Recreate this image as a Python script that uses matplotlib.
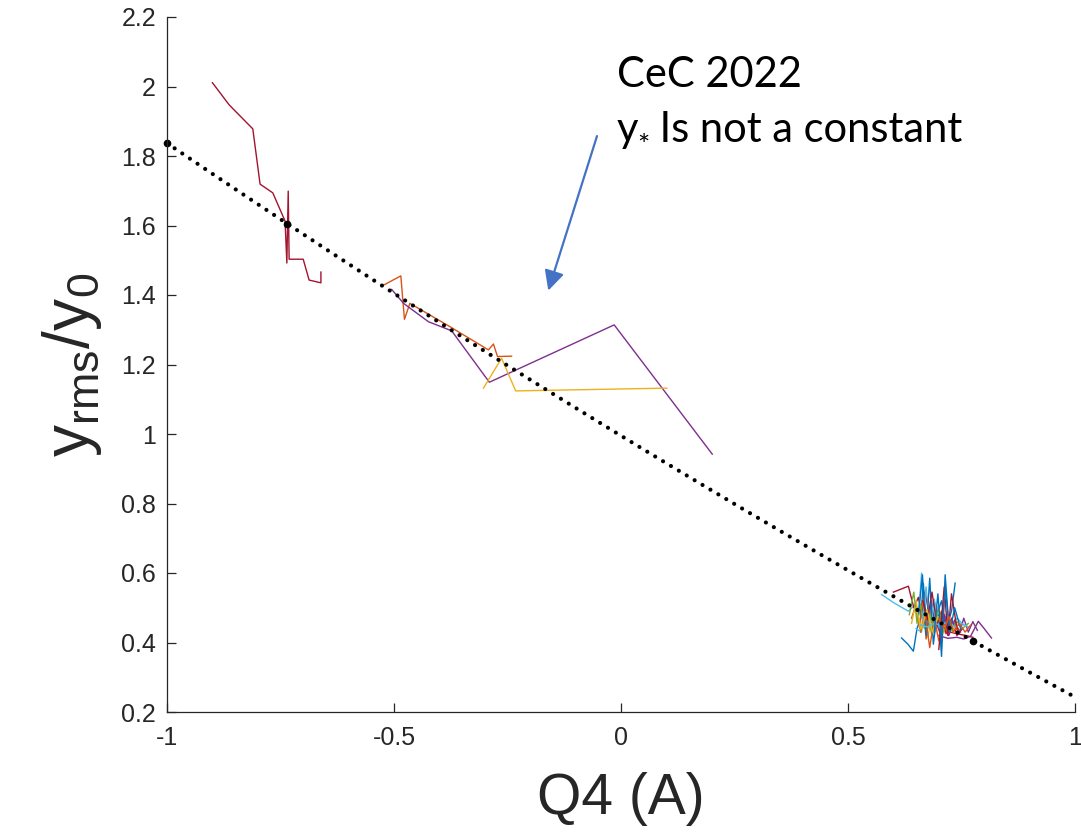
import numpy as np
import matplotlib
matplotlib.use("Agg")
import matplotlib.pyplot as plt
from matplotlib.transforms import offset_copy

# MATLAB default line colours
C_BLUE = '#0072BD'
C_ORANGE = '#D95319'
C_YELLOW = '#EDB120'
C_PURPLE = '#7E2F8E'
C_GREEN = '#77AC30'
C_LBLUE = '#4DBEEE'
C_RED = '#A2142F'

# scans far from the fit line
red_x = [-0.900, -0.863, -0.811, -0.795, -0.767, -0.740, -0.736, -0.733, -0.731, -0.700, -0.687, -0.661, -0.661]
red_y = [2.011, 1.947, 1.878, 1.719, 1.694, 1.613, 1.492, 1.699, 1.503, 1.503, 1.443, 1.435, 1.466]

orange_x = [-0.525, -0.485, -0.477, -0.465, -0.377, -0.292, -0.281, -0.272, -0.241]
orange_y = [1.427, 1.455, 1.330, 1.376, 1.309, 1.242, 1.259, 1.223, 1.224]

purple_x = [-0.505, -0.479, -0.424, -0.373, -0.290, -0.015, 0.201]
purple_y = [1.416, 1.376, 1.323, 1.297, 1.149, 1.314, 0.942]

yellow_x = [-0.303, -0.263, -0.232, 0.101]
yellow_y = [1.132, 1.218, 1.124, 1.132]

# the tangle of scans near Q4 = 0.7
cluster = [
    (C_LBLUE, [0.574, 0.600, 0.633, 0.645, 0.655, 0.662, 0.668, 0.680, 0.695, 0.710],
              [0.538, 0.515, 0.490, 0.505, 0.470, 0.600, 0.455, 0.480, 0.445, 0.470]),
    (C_BLUE, [0.618, 0.632, 0.644, 0.652, 0.660, 0.666, 0.674, 0.684, 0.692, 0.700, 0.706, 0.714, 0.722],
             [0.413, 0.395, 0.375, 0.440, 0.470, 0.570, 0.430, 0.520, 0.440, 0.480, 0.360, 0.595, 0.450]),
    (C_RED, [0.600, 0.633, 0.645, 0.655, 0.662, 0.670, 0.680, 0.690, 0.700, 0.712, 0.725, 0.740, 0.760, 0.775],
            [0.545, 0.562, 0.500, 0.530, 0.480, 0.545, 0.470, 0.520, 0.440, 0.480, 0.430, 0.425, 0.420, 0.415]),
    (C_ORANGE, [0.640, 0.650, 0.658, 0.665, 0.672, 0.680, 0.688, 0.695, 0.703, 0.712, 0.722, 0.735, 0.748],
               [0.470, 0.510, 0.440, 0.525, 0.410, 0.490, 0.450, 0.505, 0.420, 0.470, 0.440, 0.455, 0.430]),
    (C_YELLOW, [0.640, 0.650, 0.660, 0.668, 0.676, 0.684, 0.692, 0.700, 0.710, 0.720, 0.732],
               [0.455, 0.520, 0.430, 0.490, 0.415, 0.475, 0.430, 0.465, 0.425, 0.450, 0.430]),
    (C_GREEN, [0.635, 0.645, 0.652, 0.660, 0.668, 0.676, 0.684, 0.694, 0.704, 0.716],
              [0.480, 0.545, 0.455, 0.510, 0.440, 0.480, 0.425, 0.470, 0.435, 0.455]),
    (C_PURPLE, [0.700, 0.720, 0.740, 0.755, 0.770, 0.787, 0.800, 0.816],
               [0.420, 0.412, 0.415, 0.410, 0.418, 0.461, 0.440, 0.413]),
    (C_LBLUE, [0.650, 0.662, 0.672, 0.680, 0.690, 0.700, 0.712, 0.725, 0.740, 0.755],
              [0.440, 0.430, 0.560, 0.455, 0.525, 0.440, 0.475, 0.445, 0.470, 0.450]),
    (C_BLUE, [0.655, 0.664, 0.672, 0.680, 0.688, 0.696, 0.706, 0.716, 0.728, 0.736],
             [0.480, 0.595, 0.420, 0.585, 0.395, 0.480, 0.520, 0.440, 0.490, 0.571]),
    (C_RED, [0.665, 0.675, 0.685, 0.696, 0.706, 0.716, 0.728, 0.740, 0.752],
            [0.520, 0.465, 0.545, 0.450, 0.490, 0.425, 0.470, 0.420, 0.440]),
    (C_PURPLE, [0.690, 0.702, 0.712, 0.722, 0.735, 0.745, 0.755, 0.765, 0.775, 0.785],
               [0.470, 0.430, 0.480, 0.420, 0.465, 0.425, 0.470, 0.430, 0.460, 0.435]),
    (C_ORANGE, [0.660, 0.670, 0.680, 0.690, 0.700, 0.710, 0.720, 0.730, 0.742],
               [0.430, 0.480, 0.385, 0.470, 0.405, 0.455, 0.425, 0.450, 0.435]),
    (C_GREEN, [0.680, 0.690, 0.700, 0.710, 0.720, 0.730, 0.740, 0.752, 0.765],
              [0.480, 0.440, 0.500, 0.430, 0.470, 0.435, 0.460, 0.440, 0.455]),
    (C_YELLOW, [0.650, 0.662, 0.674, 0.686, 0.698, 0.710, 0.722, 0.735],
               [0.500, 0.440, 0.495, 0.430, 0.475, 0.440, 0.465, 0.440]),
    (C_LBLUE, [0.660, 0.675, 0.690, 0.705, 0.720, 0.735, 0.750, 0.765],
              [0.450, 0.445, 0.455, 0.450, 0.460, 0.445, 0.455, 0.445]),
    (C_RED, [0.700, 0.712, 0.720, 0.728, 0.740],
            [0.380, 0.560, 0.420, 0.540, 0.440]),
    (C_BLUE, [0.690, 0.698, 0.706, 0.714, 0.724, 0.735, 0.748],
             [0.430, 0.540, 0.400, 0.560, 0.430, 0.500, 0.440]),
    (C_ORANGE, [0.700, 0.712, 0.722, 0.732, 0.745, 0.758, 0.770],
               [0.470, 0.440, 0.475, 0.430, 0.455, 0.430, 0.450]),
]

# quadratic fit  y = a + b*Q4 + c*Q4^2
fit_a = 0.995
fit_b = -0.797
fit_c = 0.045
fit_range = [-1.0, 1.0]
dot_x = [-1.0, -0.735, 0.776]

xticks = [-1, -0.5, 0, 0.5, 1]
xtick_labels = ['-1', '-0.5', '0', '0.5', '1']
yticks = [0.2, 0.4, 0.6, 0.8, 1.0, 1.2, 1.4, 1.6, 1.8, 2.0, 2.2]
ytick_labels = ['0.2', '0.4', '0.6', '0.8', '1', '1.2', '1.4', '1.6', '1.8', '2', '2.2']

arrow_tail = (-0.051, 1.865)
arrow_tip = (-0.162, 1.405)

tick_font = ['Liberation Sans', 'DejaVu Sans']
note_font = ['Lato', 'DejaVu Sans']


def fit(q):
    return fit_a + fit_b * q + fit_c * q ** 2


fig = plt.figure(figsize=(10.81, 8.35), dpi=100)
ax = fig.add_axes([167 / 1081, 1 - 712 / 835, (1075 - 167) / 1081, (712 - 17) / 835])

ax.plot(red_x, red_y, color=C_RED, lw=1.0)
ax.plot(orange_x, orange_y, color=C_ORANGE, lw=1.0)
ax.plot(purple_x, purple_y, color=C_PURPLE, lw=1.0)
ax.plot(yellow_x, yellow_y, color=C_YELLOW, lw=1.0)
for col, xs, ys in cluster:
    ax.plot(xs, ys, color=col, lw=1.0)

fx = np.linspace(fit_range[0], fit_range[1], 200)
ax.plot(fx, fit(fx), color='k', lw=3, linestyle=(0, (0.01, 2.2)),
        dash_capstyle='round')
dx = np.array(dot_x)
ax.plot(dx, fit(dx), 'o', color='k', ms=4.5, clip_on=False)

ax.annotate('', xy=arrow_tip, xytext=arrow_tail,
            arrowprops=dict(arrowstyle='-|>', color='#4472C4', lw=1.6, mutation_scale=30))

ax.set_xlim(-1, 1)
ax.set_ylim(0.2, 2.2)
ax.set_xticks(xticks)
ax.set_xticklabels(xtick_labels)
ax.set_yticks(yticks)
ax.set_yticklabels(ytick_labels)
for s in ['top', 'right']:
    ax.spines[s].set_visible(False)
for s in ['left', 'bottom']:
    ax.spines[s].set_color('#262626')
    ax.spines[s].set_linewidth(0.9)
ax.tick_params(direction='in', length=6.5, width=0.9, color='#262626', labelcolor='#262626',
               labelsize=18)
ax.tick_params(axis='x', pad=10)
ax.tick_params(axis='y', pad=8)
for lab in ax.get_xticklabels() + ax.get_yticklabels():
    lab.set_family(tick_font)

ax.set_xlabel('Q4 (A)', fontsize=41, family=tick_font, color='#262626', labelpad=16)
ax.set_ylabel(r'$\mathregular{y_{rms}/y_0}$', fontsize=46, family=tick_font,
              color='#262626', labelpad=12)

# annotation text, the star is set small on the baseline like in the slide
fig.text(617 / 1081, 1 - 87 / 835, 'CeC 2022', fontsize=30, family=note_font,
         va='baseline', ha='left')
renderer = fig.canvas.get_renderer()
t_y = fig.text(617 / 1081, 1 - 142 / 835, 'y', fontsize=30, family=note_font,
               va='baseline', ha='left')
bb = t_y.get_window_extent(renderer)
t_star = fig.text(bb.x1 / 1081, 1 - 142 / 835, '*', fontsize=21, family=note_font,
                  va='baseline', ha='left',
                  transform=offset_copy(fig.transFigure, fig=fig, x=-1, y=-9, units='points'))
bb2 = t_star.get_window_extent(renderer)
fig.text(bb2.x1 / 1081, 1 - 142 / 835, ' Is not a constant', fontsize=30, family=note_font,
         va='baseline', ha='left')

fig.savefig('out.png', dpi=100)
